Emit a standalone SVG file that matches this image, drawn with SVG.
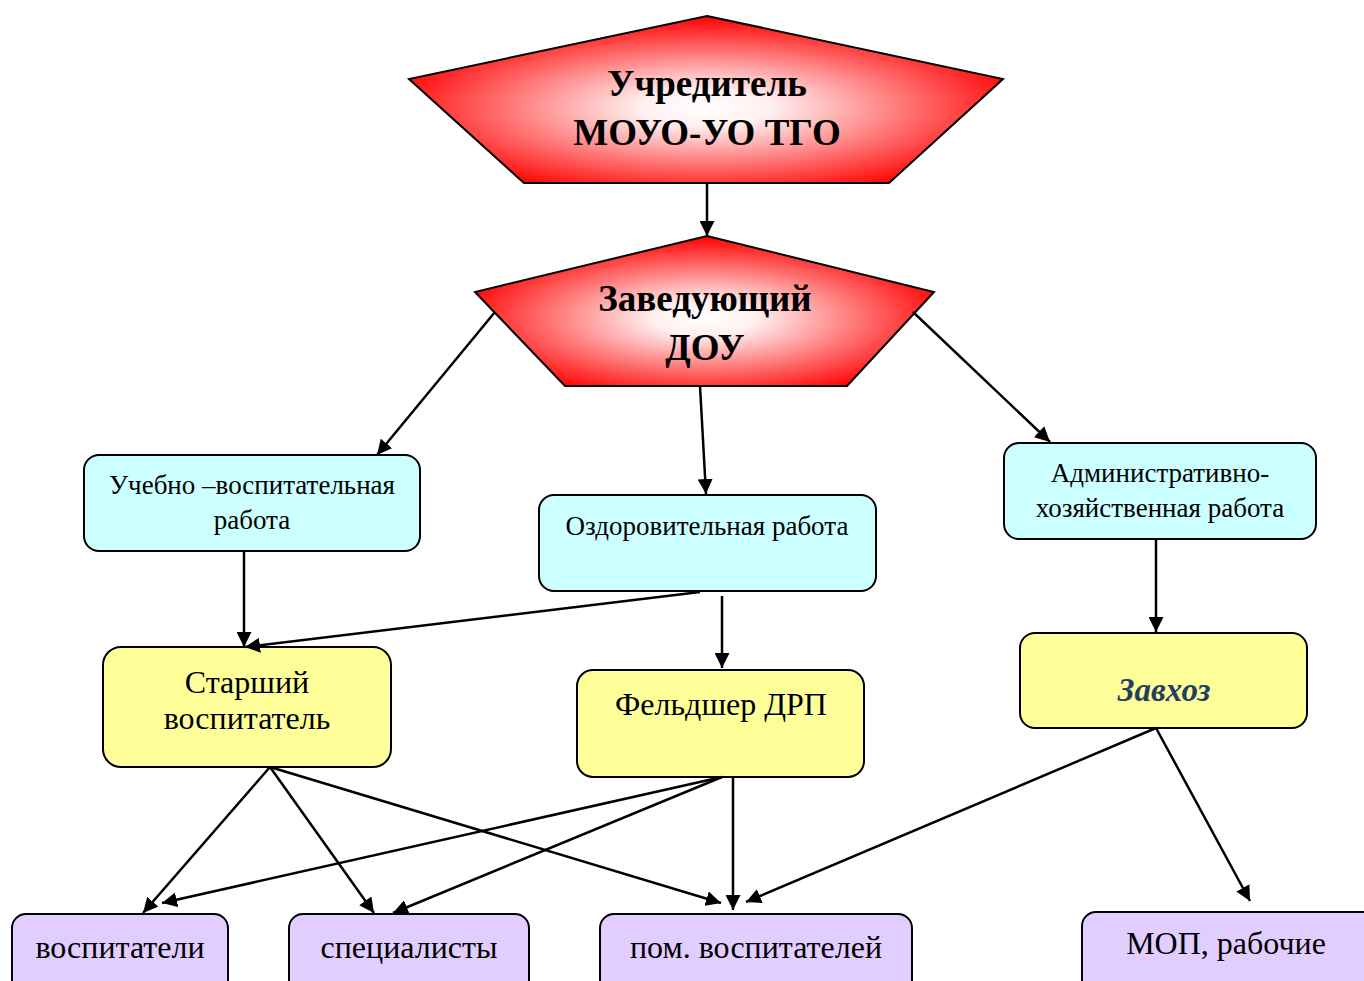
<svg xmlns="http://www.w3.org/2000/svg" width="1364" height="981" viewBox="0 0 1364 981">
<style>
.t{font-family:"Liberation Serif","Times New Roman",serif;fill:#000;text-anchor:middle}
.big{font-size:37px;font-weight:bold}
.m{font-size:27px}
.y{font-size:32px}
.b{font-size:32px}
.cy{fill:#CCFFFF;stroke:#000;stroke-width:2}
.ye{fill:#FFFF99;stroke:#000;stroke-width:2}
.pu{fill:#E1CDFF;stroke:#000;stroke-width:2}
.pent{stroke:#000;stroke-width:2;fill:url(#rg)}
.c line{stroke:#000;stroke-width:2.5;marker-end:url(#ah)}
</style>
<defs>
<radialGradient id="rg" cx="50%" cy="55%" r="55%">
<stop offset="0" stop-color="#FFFFFF"/>
<stop offset="0.2" stop-color="#FFF0F0"/>
<stop offset="1" stop-color="#FF0000"/>
</radialGradient>
<marker id="ah" viewBox="0 0 10 10" refX="10" refY="5" markerWidth="6" markerHeight="6" markerUnits="strokeWidth" orient="auto">
<path d="M0,0 L10,5 L0,10 z" fill="#000"/>
</marker>
</defs>
<rect width="1364" height="981" fill="#fff"/>

<g id="uchreditel">
<polygon class="pent" points="707,16 1003,79 889,183 524,183 409,79"/>
<text class="t big" x="707" y="96">Учредитель</text>
<text class="t big" x="707" y="145">МОУО-УО ТГО</text>
</g>

<g id="zaveduyushchiy">
<polygon class="pent" points="707,236 934,292 847,386 565,386 475,292"/>
<text class="t big" x="705" y="311">Заведующий</text>
<text class="t big" x="705" y="360">ДОУ</text>
</g>

<g id="uchebno">
<rect class="cy" x="84" y="455" width="336" height="96" rx="15"/>
<text class="t m" x="252" y="494">Учебно –воспитательная</text>
<text class="t m" x="252" y="529">работа</text>
</g>

<g id="ozdorov">
<rect class="cy" x="539" y="495" width="337" height="96" rx="15"/>
<text class="t m" x="707" y="535">Оздоровительная работа</text>
</g>

<g id="admin">
<rect class="cy" x="1004" y="443" width="312" height="96" rx="15"/>
<text class="t m" x="1160" y="482">Административно-</text>
<text class="t m" x="1160" y="517">хозяйственная работа</text>
</g>

<g id="starshiy">
<rect class="ye" x="103" y="647" width="288" height="120" rx="18"/>
<text class="t y" x="247" y="693">Старший</text>
<text class="t y" x="247" y="729">воспитатель</text>
</g>

<g id="feldsher">
<rect class="ye" x="577" y="670" width="287" height="107" rx="16"/>
<text class="t y" x="721" y="715">Фельдшер ДРП</text>
</g>

<g id="zavhoz">
<rect class="ye" x="1020" y="633" width="287" height="95" rx="15"/>
<text class="t" x="1164" y="701" font-size="33" font-weight="bold" font-style="italic" style="fill:#243F60">Завхоз</text>
</g>

<g id="vospitateli">
<rect class="pu" x="12" y="914" width="216" height="100" rx="14"/>
<text class="t b" x="120" y="958">воспитатели</text>
</g>

<g id="specialisty">
<rect class="pu" x="289" y="914" width="240" height="100" rx="14"/>
<text class="t b" x="409" y="958">специалисты</text>
</g>

<g id="pom">
<rect class="pu" x="600" y="914" width="312" height="100" rx="14"/>
<text class="t b" x="756" y="958">пом. воспитателей</text>
</g>

<g id="mop">
<rect class="pu" x="1082" y="912" width="300" height="100" rx="14"/>
<text class="t b" x="1226" y="954">МОП, рабочие</text>
</g>

<g id="connectors" class="c">
<line x1="707" y1="183" x2="707" y2="236"/>
<line x1="495" y1="312" x2="377" y2="455"/>
<line x1="700" y1="386" x2="706" y2="494"/>
<line x1="913" y1="312" x2="1050" y2="442"/>
<line x1="244" y1="551" x2="244" y2="647"/>
<line x1="700" y1="592" x2="245" y2="647"/>
<line x1="722" y1="596" x2="722" y2="668"/>
<line x1="1156" y1="539" x2="1156" y2="632"/>
<line x1="270" y1="767" x2="143" y2="913"/>
<line x1="270" y1="767" x2="374" y2="913"/>
<line x1="270" y1="767" x2="721" y2="903"/>
<line x1="722" y1="777" x2="162" y2="903"/>
<line x1="722" y1="777" x2="393" y2="913"/>
<line x1="733" y1="777" x2="733" y2="910"/>
<line x1="1156" y1="728" x2="746" y2="902"/>
<line x1="1156" y1="728" x2="1250" y2="901"/>
</g>
</svg>
